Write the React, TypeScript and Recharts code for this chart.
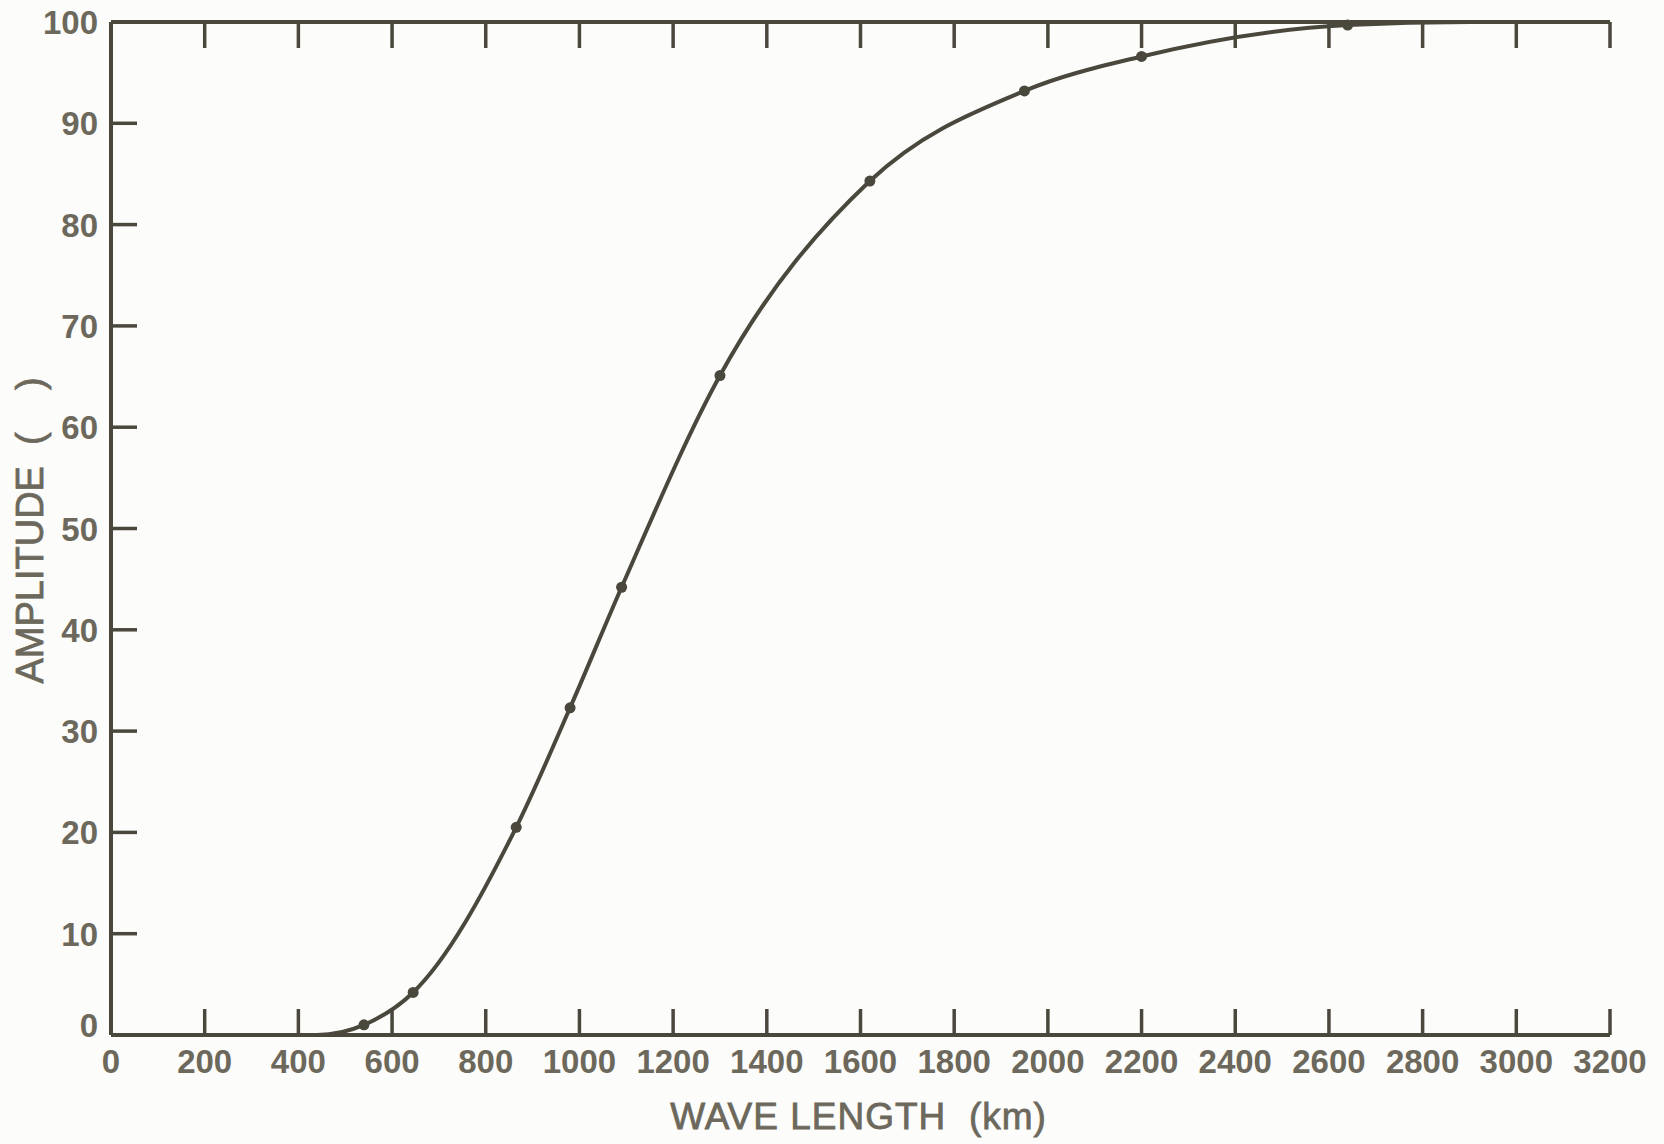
import React from 'react';
import { ComposedChart, Line, Scatter, XAxis, YAxis } from 'recharts';

// Smooth curve through the data (wave length in km, amplitude)
const curveWave = [0, 440, 540, 645, 865, 980, 1090, 1300, 1620, 1950, 2200, 2640, 2900, 3200];
const curveAmp = [0, 0, 1.0, 4.2, 20.5, 32.3, 44.2, 65.1, 84.3, 93.2, 96.6, 99.7, 100, 100];

// Plotted sample points (markers)
const markerWave = [540, 645, 865, 980, 1090, 1300, 1620, 1950, 2200, 2640];
const markerAmp = [1.0, 4.2, 20.5, 32.3, 44.2, 65.1, 84.3, 93.2, 96.6, 99.7];

const xTicks = [0, 200, 400, 600, 800, 1000, 1200, 1400, 1600, 1800, 2000, 2200, 2400, 2600, 2800, 3000, 3200];
const yTicks = [0, 10, 20, 30, 40, 50, 60, 70, 80, 90, 100];

const xTitle = 'WAVE LENGTH\u00a0\u00a0(km)';
const yTitle = 'AMPLITUDE\u00a0\u00a0(\u00a0\u00a0\u00a0\u00a0)';

const curveData = curveWave.map((x, i) => ({ x, y: curveAmp[i] }));
const markerData = markerWave.map((x, i) => ({ x, y: markerAmp[i] }));

const INK = '#4a473d';
const TEXT = '#6c685c';
const FONT = '"Liberation Sans", Arial, sans-serif';

const BottomTick = (props: any) => {
  const { x, y, payload } = props;
  const v = payload.value;
  return (
    <g>
      {v > 0 && <line x1={x} y1={y} x2={x} y2={y - 26} stroke={INK} strokeWidth={3.5} />}
      <text x={x} y={y + 38} textAnchor="middle" fill={TEXT} fontFamily={FONT} fontWeight={700} fontSize={33}>
        {v}
      </text>
    </g>
  );
};

const TopTick = (props: any) => {
  const { x, y, payload } = props;
  const v = payload.value;
  if (v <= 0) return <g />;
  return (
    <g>
      <line x1={x} y1={y} x2={x} y2={y + 26} stroke={INK} strokeWidth={3.5} />
    </g>
  );
};

const LeftTick = (props: any) => {
  const { x, y, payload } = props;
  const v = payload.value;
  return (
    <g>
      {v > 0 && v < 100 && <line x1={x} y1={y} x2={x + 26} y2={y} stroke={INK} strokeWidth={3.5} />}
      <text
        x={x - 13}
        y={y + (v === 0 ? -10 : 0)}
        dy={12}
        textAnchor="end"
        fill={TEXT}
        fontFamily={FONT}
        fontWeight={700}
        fontSize={33}
      >
        {v}
      </text>
    </g>
  );
};

const XTitle = (props: any) => {
  const vb = props.viewBox || {};
  return (
    <text
      x={vb.x + vb.width / 2 - 2}
      y={vb.y + 94}
      textAnchor="middle"
      fill={TEXT}
      stroke={TEXT}
      strokeWidth={0.8}
      fontFamily={FONT}
      fontSize={37}
      letterSpacing={1}
    >
      {xTitle}
    </text>
  );
};

const YTitle = (props: any) => {
  const vb = props.viewBox || {};
  const cx = 43;
  const cy = vb.y + vb.height / 2 + 2;
  return (
    <text
      x={cx}
      y={cy}
      transform={`rotate(-90 ${cx} ${cy})`}
      textAnchor="middle"
      fill={TEXT}
      stroke={TEXT}
      strokeWidth={0.8}
      fontFamily={FONT}
      fontSize={38}
    >
      {yTitle}
    </text>
  );
};

const Dot = (props: any) => {
  const { cx, cy } = props;
  return <circle cx={cx} cy={cy} r={5.5} fill={INK} />;
};

export default function App() {
  return (
    <div style={{ position: 'absolute', left: 0, top: 0, width: 1664, height: 1144, background: '#fcfcfa' }}>
      <ComposedChart width={1664} height={1144} margin={{ top: 12, right: 54, left: 0, bottom: 9 }}>
        <XAxis
          xAxisId={0}
          dataKey="x"
          type="number"
          domain={[0, 3200]}
          ticks={xTicks}
          interval={0}
          height={100}
          tickSize={0}
          tickMargin={0}
          tickLine={false}
          axisLine={{ stroke: INK, strokeWidth: 4 }}
          tick={<BottomTick />}
          label={<XTitle />}
        />
        <XAxis
          xAxisId="top"
          orientation="top"
          dataKey="x"
          type="number"
          domain={[0, 3200]}
          ticks={xTicks}
          interval={0}
          height={10}
          tickSize={0}
          tickMargin={0}
          tickLine={false}
          axisLine={{ stroke: INK, strokeWidth: 4 }}
          tick={<TopTick />}
        />
        <YAxis
          type="number"
          domain={[0, 100]}
          ticks={yTicks}
          interval={0}
          width={111}
          tickSize={0}
          tickMargin={0}
          tickLine={false}
          axisLine={{ stroke: INK, strokeWidth: 4 }}
          tick={<LeftTick />}
          label={<YTitle />}
        />
        <Line
          data={curveData}
          dataKey="y"
          type="monotone"
          stroke={INK}
          strokeWidth={4}
          dot={false}
          activeDot={false}
          isAnimationActive={false}
        />
        <Scatter
          xAxisId="top"
          data={markerData}
          dataKey="y"
          fill={INK}
          shape={<Dot />}
          isAnimationActive={false}
        />
      </ComposedChart>
    </div>
  );
}
